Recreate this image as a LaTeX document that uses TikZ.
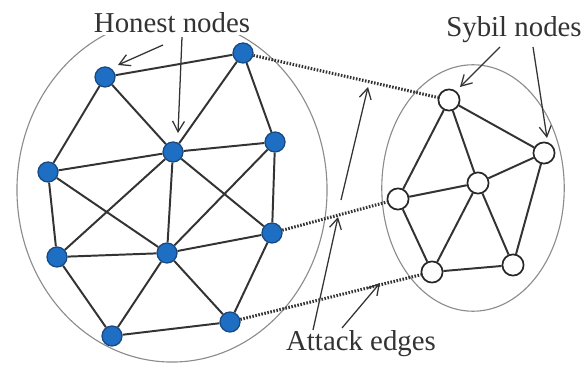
\documentclass[tikz,border=0pt]{standalone}
\usepackage{fontspec}
\setmainfont{Liberation Serif}
\usetikzlibrary{arrows.meta}
\definecolor{honfill}{RGB}{30,110,195}
\definecolor{honedge}{RGB}{22,72,130}
\tikzstyle{hon}=[circle,draw=honedge,fill=honfill,line width=0.9pt,minimum size=0.5cm,inner sep=0pt]
\tikzstyle{syb}=[circle,draw=black!85,fill=white,line width=1.2pt,minimum size=0.53cm,inner sep=0pt]
\tikzstyle{lnk}=[line width=1.4pt,draw=black!80]
\tikzstyle{atk}=[line width=2.2pt,draw=black!80,dash pattern=on 1.1pt off 1.1pt]
\tikzstyle{ptr}=[line width=0.9pt,draw=black!80,-{Straight Barb[length=7.5pt,width=8.5pt,line width=0.9pt]}]
\tikzstyle{ring}=[line width=0.8pt,draw=black!45]
\tikzstyle{lbl}=[font=\fontsize{20.5}{24}\selectfont,text=black!80,anchor=base,inner sep=1pt]

\begin{document}
\begin{tikzpicture}[x=0.025cm,y=-0.025cm]
\useasboundingbox (0,0) rectangle (582,365);
% the two regions
\draw[ring] (172,190) ellipse [x radius=3.875cm, y radius=4.3cm];
\draw[ring] (473,188) ellipse [x radius=2.28cm, y radius=3.08cm];
% honest region
\node[hon] (A) at (105,77) {}; \node[hon] (B) at (243,53) {};
\node[hon] (C) at (173,152) {}; \node[hon] (D) at (275,142) {};
\node[hon] (E) at (48,172) {}; \node[hon] (F) at (57,257) {};
\node[hon] (G) at (167,253) {}; \node[hon] (H) at (272,233) {};
\node[hon] (I) at (112,336) {}; \node[hon] (J) at (230,322) {};
% sybil region
\node[syb] (S1) at (449,100) {}; \node[syb] (S2) at (544,153) {};
\node[syb] (S3) at (478,183) {}; \node[syb] (S4) at (398,199) {};
\node[syb] (S5) at (432,272) {}; \node[syb] (S6) at (513,265) {};
\foreach \a/\b in {A/B,A/E,A/C,B/C,B/D,C/D,C/E,C/G,C/F,C/H,D/G,D/H,E/F,E/G,F/G,G/H,G/I,G/J,F/I,I/J,H/J}
  \draw[lnk] (\a) -- (\b);
\foreach \a/\b in {S1/S2,S1/S4,S1/S3,S2/S3,S3/S4,S2/S6,S3/S5,S3/S6,S4/S5,S5/S6}
  \draw[lnk] (\a) -- (\b);
% attack edges
\draw[atk] (B) -- (S1);
\draw[atk] (H) -- (S4);
\draw[atk] (J) -- (S5);
% labels
\node[lbl,fill=white] (hlab) at (172,33) {Honest nodes};
\node[lbl] (slab) at (514,37) {Sybil nodes};
\node[lbl] (alab) at (361,350) {Attack edges};
% pointer ends
\coordinate (h1) at (163,45); \coordinate (h1t) at (118,65);
\coordinate (h2) at (182,37); \coordinate (h2t) at (178,133);
\coordinate (s1) at (500,47); \coordinate (s1t) at (460,87);
\coordinate (s2) at (533,47); \coordinate (s2t) at (547,138);
\coordinate (a1) at (313,330); \coordinate (a1t) at (338,217);
\coordinate (a2) at (341,200); \coordinate (a2t) at (368,87);
\coordinate (a3) at (342,328); \coordinate (a3t) at (380,283);
\foreach \p in {h1,h2,s1,s2,a1,a2,a3}
  \draw[ptr] (\p) -- (\p t);
\end{tikzpicture}
\end{document}
